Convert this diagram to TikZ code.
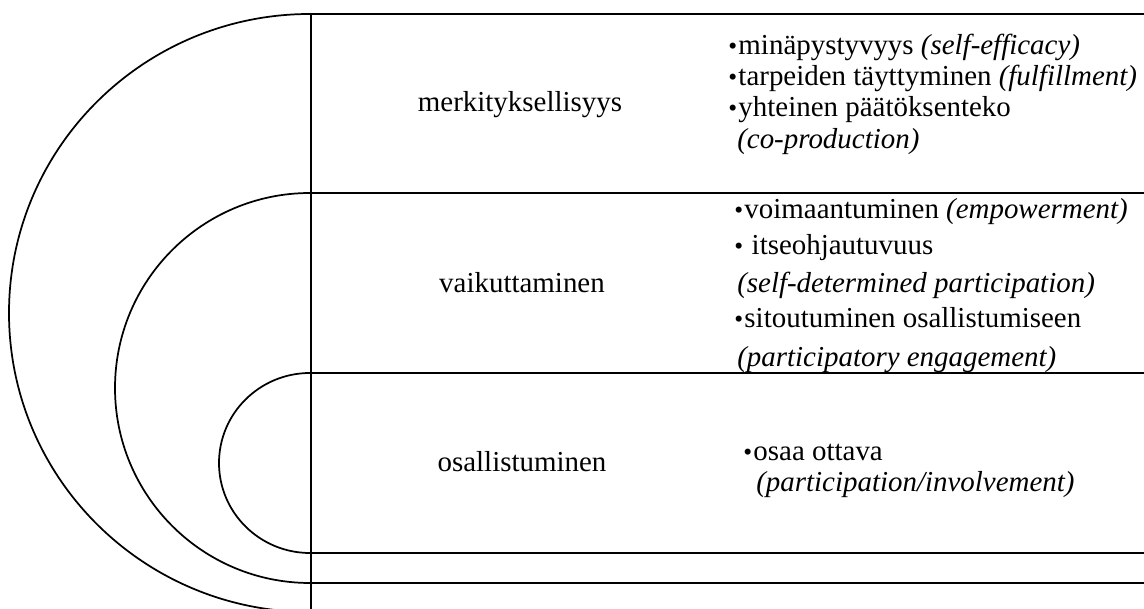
\documentclass[tikz,border=0pt]{standalone}
\usepackage{fontspec}
\setmainfont{Liberation Serif}
\usepackage{tikz}
\usetikzlibrary{calc,positioning}
\newcommand{\itembul}{{\fontsize{19}{19}\selectfont•}\kern1pt}

\begin{document}
\begin{tikzpicture}[x=0.75pt,y=0.75pt]
    \tikzset{ring/.style={draw=black,line width=1.3pt},
        axisline/.style={draw=black,line width=2pt},
        level/.style={anchor=base,inner sep=0pt,font=\fontsize{21.7}{26}\selectfont},
        entry/.style={anchor=base west,inner sep=0pt,font=\fontsize{21.7}{26}\selectfont},}
    \useasboundingbox (0,0) rectangle (1144,609);
    % ends of the rings on the axis
    \coordinate (outtop) at (310,595);
    \coordinate (midtop) at (310,416);
    \coordinate (midbot) at (310,26);
    \coordinate (inntop) at (310,236);
    \coordinate (innbot) at (310,56);
    % rings
    \draw[ring] (outtop) arc[start angle=90,end angle=270,x radius=301,y radius=299];
    \draw[ring] (midtop) arc[start angle=90,end angle=270,x radius=195,y radius=195];
    \draw[ring] (inntop) arc[start angle=90,end angle=270,x radius=91,y radius=90];
    \foreach \c in {outtop,midtop,midbot,inntop,innbot}
        \draw[ring] (\c) -- (\c -| 1144,0);
    \draw[axisline] (311,595) -- (311,0);
    % levels
    \node[level] (merk) at (520,497) {merkityksellisyys};
    \node[level] (vaik) at (522,316) {vaikuttaminen};
    \node[level] (osal) at (522,137) {osallistuminen};
    % items
    \node[entry] (m1) at (728,554) {\itembul minäpystyvyys \textit{(self-efficacy)}};
    \node[entry] (m2) at (728,523) {\itembul tarpeiden täyttyminen \textit{(fulfillment)}};
    \node[entry] (m3) at (728,492) {\itembul yhteinen päätöksenteko};
    \node[entry] (m4) at (737,460) {\textit{(co-production)}};
    \node[entry] (v1) at (734,390) {\itembul voimaantuminen \textit{(empowerment)}};
    \node[entry] (v2) at (734,354) {\itembul\ itseohjautuvuus};
    \node[entry] (v3) at (737,316) {\textit{(self-determined participation)}};
    \node[entry] (v4) at (734,281) {\itembul sitoutuminen osallistumiseen};
    \node[entry] (v5) at (737,242) {\textit{(participatory engagement)}};
    \node[entry] (o1) at (743,148) {\itembul osaa ottava};
    \node[entry] (o2) at (756,117) {\textit{(participation/involvement)}};
\end{tikzpicture}
\end{document}
